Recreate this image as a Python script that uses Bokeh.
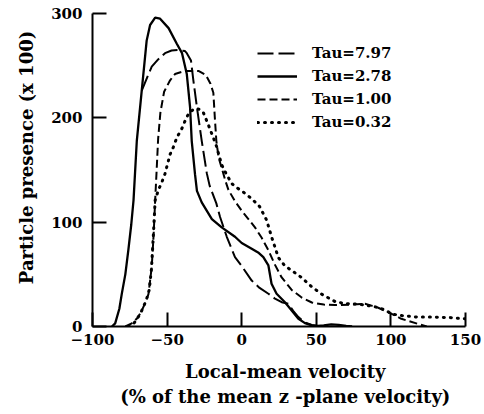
from bokeh.plotting import figure
from bokeh.models import Range1d, FixedTicker, Legend, LegendItem
from bokeh.embed import file_html
from bokeh.resources import INLINE

# Tau = 7.97 (long dash)
x_797 = [-67, -63, -60.3, -56, -51.4, -47, -42.4, -38, -36.8, -34, -32.4, -30, -26.8, -23.4,
         -21.5, -17, -14.5, -10, -4.5, 0, 6.7, 12, 17.9, 22, 26.8, 31.3, 34.5, 38, 42, 47, 51, 55]
y_797 = [226, 240, 249, 256, 262, 264.5, 265, 264, 262, 255, 236, 210, 178, 147,
         135, 118, 105, 86, 66.5, 58, 44, 37, 31.4, 27, 23.3, 21.8, 15, 9, 4, 1.5, 0.5, 0]

# Tau = 2.78 (solid)
x_278 = [-87, -84.8, -82, -80.4, -78, -76, -74, -72.5, -70.3, -67, -63.7, -61.4, -58, -54.7,
         -49, -43.5, -40, -36.8, -34.6, -33.5, -31.3, -30, -26.8, -20, -13.4, -4.5, 0, 6.7,
         11, 14.5, 17.9, 20, 23.4, 29, 33.5, 38, 42.4, 47, 51, 55, 60, 65, 70, 74]
y_278 = [0, 3, 17, 31, 50, 73, 98, 121, 178, 226, 274, 289, 296, 295,
         286, 271, 262, 242, 210, 178, 146, 130, 119, 103, 95, 86, 80, 74.6,
         71, 66.5, 58.5, 41, 31.4, 23.3, 15.4, 7.4, 3.2, 1, 0.5, 1, 2, 1.5, 0.5, 0]

# Tau = 1.00 (medium dash)
x_100 = [-78, -73.7, -70, -67, -64, -62.5, -60.3, -59, -58, -57, -56, -54.5, -52, -48, -44.7,
         -38, -29, -24, -21, -19, -18, -17, -15.5, -13, -11, -8.9, -4.5, 0, 4.5, 8.9, 13.4,
         17.9, 22, 26.8, 33.5, 40, 47, 55, 62.5, 73.7, 82.6, 87, 91.5, 98.2, 107, 118, 124]
y_100 = [0, 3, 8, 15, 25, 31, 57, 89, 121, 150, 180, 205, 225, 236, 242,
         245, 245, 241, 233, 224, 200, 178, 162, 150, 140, 131, 120, 111, 103, 95, 85,
         73, 60, 47, 35, 28, 23, 21, 20.5, 21, 21.8, 20, 18, 13.7, 7.4, 2.6, 0]

# Tau = 0.32 (dotted)
x_032 = [-76, -72.5, -68, -64, -62, -60.5, -59.3, -58, -55.8, -53.6, -51.4, -48, -45.8, -43.5,
         -40, -38, -35.3, -31.3, -28, -25.7, -23.4, -21.2, -19, -16.7, -15.6, -13.4, -11,
         -6.7, -3.3, 0, 6.7, 12, 16.7, 20, 24.6, 29, 33.5, 40, 47, 53.6, 62.5, 69, 78, 84.8,
         89, 96, 100.5, 107, 118, 129, 140, 149.5]
y_032 = [0, 2.5, 12, 25, 35, 55, 85, 121, 131, 138, 146.5, 165, 172, 181,
         190, 197, 205, 209, 208, 205, 197, 189, 181, 172, 166, 155, 148,
         137, 133, 130, 122.5, 115, 102, 86, 66, 58, 53.7, 47, 38, 31, 24, 22, 21.5, 20,
         19, 16, 12, 10.5, 9, 9, 8.5, 7.4]

x_ticks = [-100, -50, 0, 50, 100, 150]
x_tick_labels = ["\u2212100", "\u221250", "0", "50", "100", "150"]
y_ticks = [0, 100, 200, 300]
legend_labels = ["Tau=7.97", "Tau=2.78", "Tau=1.00", "Tau=0.32"]

FONT = "DejaVu Serif"
NB = "\u00a0"

p = figure(frame_width=373, frame_height=313,
           min_border_left=92, min_border_right=19, min_border_top=13, min_border_bottom=88,
           x_range=Range1d(-100, 150), y_range=Range1d(0, 300),
           output_backend="svg", toolbar_location=None)
p.xgrid.visible = False
p.ygrid.visible = False
p.outline_line_color = None
p.background_fill_color = "white"
p.border_fill_color = "white"

for ax in (p.xaxis[0], p.yaxis[0]):
    ax.axis_line_width = 2
    ax.axis_line_color = "black"
    ax.major_tick_line_width = 2
    ax.major_tick_line_color = "black"
    ax.major_tick_in = 14
    ax.major_tick_out = 0
    ax.minor_tick_line_color = None
    ax.major_label_text_font = FONT
    ax.major_label_text_font_style = "bold"
    ax.major_label_text_font_size = "15px"
    ax.major_label_text_color = "black"
    ax.axis_label_text_font = FONT
    ax.axis_label_text_font_style = "bold"
    ax.axis_label_text_font_size = "18px"
    ax.axis_label_text_color = "black"

p.xaxis.ticker = FixedTicker(ticks=x_ticks)
p.xaxis.major_label_overrides = {t: l for t, l in zip(x_ticks, x_tick_labels)}
p.yaxis.ticker = FixedTicker(ticks=y_ticks)
p.xaxis.major_label_standoff = 7
p.yaxis.major_label_standoff = 10
p.xaxis.axis_label = NB * 2 + "Local-mean velocity\n" + NB * 2 + "(% of the mean z -plane velocity)"
p.yaxis.axis_label = NB * 4 + "Particle presence (x 100)"
p.xaxis.axis_label_standoff = 13
p.yaxis.axis_label_standoff = 11

r1 = p.line(x_797, y_797, line_color="black", line_width=2, line_dash="16 5")
r2 = p.line(x_278, y_278, line_color="black", line_width=2.3)
r3 = p.line(x_100, y_100, line_color="black", line_width=2, line_dash="8 4")
r4 = p.line(x_032, y_032, line_color="black", line_width=3, line_dash="1 6", line_cap="round")

legend = Legend(items=[LegendItem(label=legend_labels[0], renderers=[r1]),
                       LegendItem(label=legend_labels[1], renderers=[r2]),
                       LegendItem(label=legend_labels[2], renderers=[r3]),
                       LegendItem(label=legend_labels[3], renderers=[r4])],
                location=(165, 194), padding=0, margin=0, spacing=3,
                glyph_width=40, glyph_height=20, label_height=20, label_standoff=15,
                border_line_color=None, background_fill_alpha=0,
                label_text_font=FONT, label_text_font_style="bold",
                label_text_font_size="15px", label_text_color="black")
p.add_layout(legend)

open("out.html", "w").write(file_html(p, INLINE))
